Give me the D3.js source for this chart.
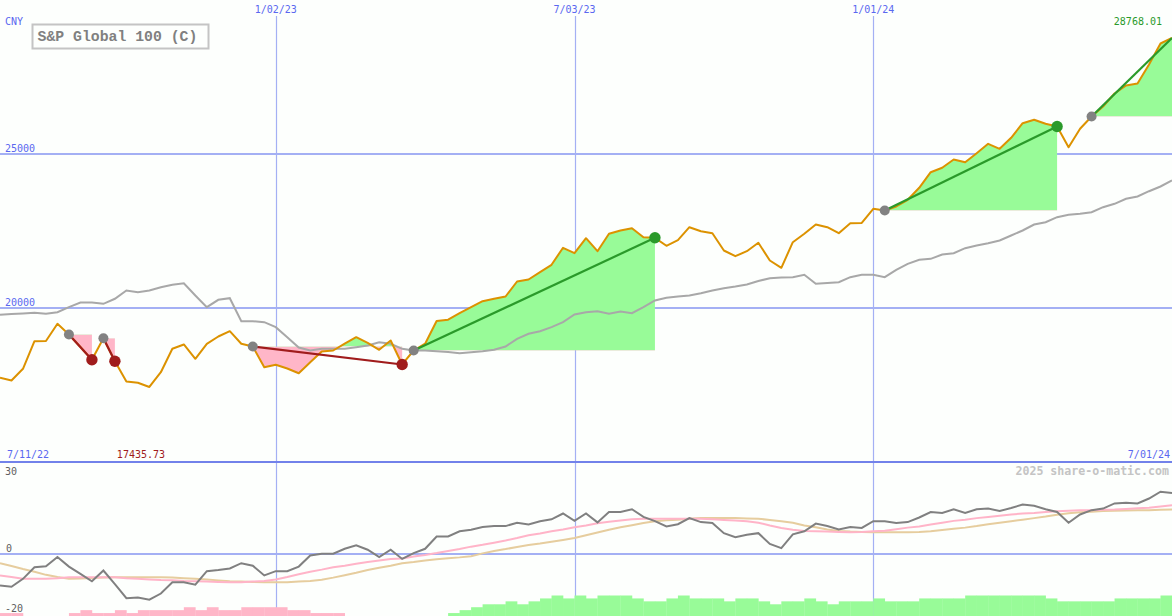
<!DOCTYPE html>
<html><head><meta charset="utf-8">
<script src="https://cdn.jsdelivr.net/npm/d3@7"></script>
<style>html,body{margin:0;padding:0;background:#fdfffd;overflow:hidden}svg{display:block}</style>
</head><body><svg id="c" width="1172" height="616"></svg>
<script>
// ---------- DATA ----------
const startDate = "2022-07-18", endDate = "2024-07-01";   // weekly (Mondays)
const title = "S&P Global 100 (C)";
const currency = "CNY";
const firstLabel = "7/11/22", lastLabel = "7/01/24";
const price = [17734,17646,18026,18922,18930,19487,19140,18734,18318,19019,
  18273,17614,17571,17435.73,17916,18675,18815,18351,18838,19075,
  19247,18840,18750,18078,18156,18036,17883,18240,18588,18620,
  18840,19052,18870,18643,18945,18166,18620,18840,19578,19620,
  19831,20026,20221,20299,20373,20860,20925,21162,21403,21955,
  21779,22266,21844,22409,22516,22591,22299,22279,22020,22201,
  22623,22494,22429,21867,21682,21844,22117,21542,21305,22136,
  22409,22711,22623,22429,22753,22760,23221,23166,23296,23513,
  23903,24409,24552,24822,24734,25026,25331,25169,25526,26000,
  26111,25981,25893,25221,25818,26218,26542,26964,27224,27289,
  27906,28588,28768.01];
const movingAvg = [19779,19805,19821,19844,19812,19864,20026,20179,20179,20136,
  20299,20568,20513,20568,20675,20753,20805,20406,20026,20266,
  20318,19571,19571,19539,19377,19052,18718,18620,18675,18675,
  18675,18727,18782,18890,18838,18675,18620,18620,18597,18571,
  18532,18565,18597,18643,18750,19000,19162,19247,19377,19539,
  19789,19864,19896,19812,19886,19831,20026,20244,20331,20373,
  20406,20481,20568,20643,20698,20763,20877,20968,20990,21000,
  21078,20786,20812,20838,21000,21078,21078,21000,21240,21435,
  21565,21597,21737,21779,21942,22029,22104,22192,22354,22516,
  22711,22786,22948,23026,23058,23110,23273,23383,23546,23620,
  23792,23945,24140];
const momentum = [-10.3,-10.7,-8.1,-4.3,-4.0,-1.0,-4.1,-6.5,-8.9,-5.4,
  -9.8,-14.4,-14.2,-14.9,-12.9,-9.2,-9.2,-10.0,-5.6,-5.2,
  -4.7,-3.0,-3.8,-7.0,-5.6,-5.6,-4.1,-0.5,0.1,0.1,
  1.7,2.8,1.4,-1.0,1.4,-1.6,0.3,1.7,5.7,5.7,
  7.4,7.9,8.8,9.1,9.1,10.2,9.6,10.7,11.3,13.2,
  10.8,13.2,10.3,13.7,13.7,14.6,12.1,10.7,9.0,9.7,
  11.7,10.4,10.1,6.8,5.5,6.3,6.8,3.3,1.9,6.4,
  7.4,9.9,9.1,8.0,8.8,8.5,10.7,10.7,10.1,10.4,
  11.9,13.7,13.4,14.6,13.4,14.6,14.8,14.0,15.0,16.1,
  15.7,14.6,13.7,10.2,12.9,14.3,14.8,16.5,16.7,16.5,
  18.1,20.3,19.9];
const fastAvg = [-7.0,-7.5,-8.1,-8.1,-8.1,-7.9,-7.6,-7.6,-7.6,-7.6,
  -7.6,-7.9,-8.1,-8.3,-8.5,-8.6,-8.8,-8.9,-9.0,-9.1,
  -9.2,-9.2,-9.0,-8.8,-8.3,-7.5,-6.6,-5.8,-5.1,-4.3,
  -3.8,-3.2,-2.6,-2.1,-1.6,-1.5,-0.8,-0.3,0.3,1.0,
  1.6,2.4,3.0,3.7,4.4,5.2,6.1,6.7,7.4,8.0,
  8.7,9.3,10.0,10.5,10.9,11.3,11.5,11.5,11.5,11.5,
  11.5,11.5,11.3,11.1,10.9,10.7,10.2,9.3,8.5,7.9,
  7.5,7.4,7.3,7.2,7.1,7.2,7.4,7.6,8.1,8.6,
  9.0,9.6,10.2,10.8,11.2,11.7,12.1,12.5,12.9,13.2,
  13.4,13.7,13.9,14.1,14.3,14.3,14.4,14.5,14.7,14.9,
  15.1,15.5,15.9];
const slowAvg = [-3.0,-3.9,-4.9,-5.8,-6.8,-7.5,-8.1,-8.0,-7.8,-7.7,
  -7.6,-7.6,-7.6,-7.6,-7.6,-7.7,-7.9,-8.1,-8.3,-8.6,
  -8.9,-9.0,-9.1,-9.2,-9.2,-9.2,-9.0,-8.8,-8.4,-7.7,
  -6.9,-6.1,-5.2,-4.5,-3.8,-3.0,-2.6,-2.1,-1.7,-1.4,
  -1.1,-0.7,0.2,1.0,1.6,2.3,2.9,3.4,4.0,4.6,
  5.2,6.1,7.0,7.9,8.7,9.4,10.1,10.7,11.0,11.2,
  11.5,11.7,11.7,11.7,11.7,11.6,11.5,11.1,10.7,10.2,
  9.3,8.7,8.0,7.5,7.3,7.2,7.1,7.1,7.1,7.1,
  7.2,7.4,7.8,8.2,8.6,9.1,9.7,10.2,10.7,11.2,
  11.7,12.2,12.8,13.3,13.6,13.8,14.0,14.1,14.2,14.3,
  14.3,14.4,14.5];
const signal = [-1,-1,0,0,0,0,-1,-2,-1,-1,
  -2,-1,-2,-2,-2,-2,-3,-2,-3,-2,
  -2,-3,-3,-3,-3,-2,-2,-1,-1,-1,
  0,0,0,0,0,0,0,0,0,1,
  2,3,4,4,5,4,5,6,7,6,
  7,6,7,7,7,6,5,5,6,7,
  6,6,6,5,6,6,5,4,5,5,
  6,5,4,5,5,5,6,5,5,5,
  6,6,6,6,7,7,7,7,7,7,
  7,6,5,5,5,5,5,6,6,6,
  6,7,7];
const trades = [
  {entry:"2022-08-29", exit:"2022-09-12"},
  {entry:"2022-09-19", exit:"2022-09-26"},
  {entry:"2022-12-19", exit:"2023-03-20"},
  {entry:"2023-03-27", exit:"2023-08-21"},
  {entry:"2024-01-08", exit:"2024-04-22"},
  {entry:"2024-05-13", exit:null}
];
const priceTicks = [20000, 25000];
const dateTicks = ["2023-01-02","2023-07-03","2024-01-01"];
const dateTickLabels = ["1/02/23","7/03/23","1/01/24"];
const oscTicks = [30, 0, -20];

// ---------- CHART ----------
const W = 1172, H = 616, SEP = 462;
const parse = d3.timeParse("%Y-%m-%d");
const dates = d3.timeMonday.range(parse(startDate), d3.timeDay.offset(parse(endDate), 1));
const idx = s => dates.findIndex(d => +d === +parse(s));
const x = d3.scaleTime().domain([dates[0], dates[dates.length - 1]]).range([0, W]);
const y = d3.scaleLinear().domain([20000, 25000]).range([308, 154]);
const y2 = d3.scaleLinear().domain([0, 30]).range([554, 462]);
const hb = d3.scaleLinear().domain([0, 7]).range([0, 20.5]);

const C = {bg:"#fdfffd", grid:"#a4b0f4", sep:"#7282ea", lbl:"#5a68f0", green:"#98fb98", pink:"#ffb6c8",
  orange:"#dc9200", ma:"#a8a8a8", win:"#2a9a2a", loss:"#a01c1c", dot:"#828282"};
const mono = "'DejaVu Sans Mono', monospace";

const svg = d3.select("#c");
const defs = svg.append("defs");
svg.append("rect").attr("width", W).attr("height", H).attr("fill", C.bg);

// grid
const gGrid = svg.append("g");
dateTicks.forEach(s => {
  const px = Math.round(x(parse(s))) + 0.5;
  gGrid.append("line").attr("x1", px).attr("x2", px).attr("y1", 16).attr("y2", H)
    .attr("stroke", C.grid).attr("stroke-width", 1.2);
});
priceTicks.forEach(v => {
  gGrid.append("line").attr("x1", 0).attr("x2", W).attr("y1", y(v)).attr("y2", y(v))
    .attr("stroke", C.grid).attr("stroke-width", 2);
});
gGrid.append("line").attr("x1", 0).attr("x2", W).attr("y1", y2(0)).attr("y2", y2(0))
  .attr("stroke", C.grid).attr("stroke-width", 2);

// trade fills
const gFill = svg.append("g");
trades.forEach((t, n) => {
  const i0 = idx(t.entry), i1 = t.exit ? idx(t.exit) : dates.length - 1;
  const pts = d3.range(i0, i1 + 1);
  const ey = y(price[i0]);
  const area = d3.area().x(i => x(dates[i])).y0(ey).y1(i => y(price[i]));
  defs.append("clipPath").attr("id", "up" + n).append("rect").attr("x", 0).attr("y", 0).attr("width", W).attr("height", ey);
  defs.append("clipPath").attr("id", "dn" + n).append("rect").attr("x", 0).attr("y", ey).attr("width", W).attr("height", SEP - ey);
  gFill.append("path").attr("d", area(pts)).attr("fill", C.green).attr("clip-path", `url(#up${n})`);
  gFill.append("path").attr("d", area(pts)).attr("fill", C.pink).attr("clip-path", `url(#dn${n})`);
});

// lines
const line = arr => d3.line().x((d, i) => x(dates[i])).y(d => y(d))(arr);
svg.append("path").attr("d", line(movingAvg)).attr("fill", "none").attr("stroke", C.ma).attr("stroke-width", 2);
svg.append("path").attr("d", line(price)).attr("fill", "none").attr("stroke", C.orange).attr("stroke-width", 2).attr("stroke-linejoin", "round");

// trade lines + dots
const gTr = svg.append("g");
trades.forEach(t => {
  const i0 = idx(t.entry), i1 = t.exit ? idx(t.exit) : dates.length - 1;
  const col = price[i1] > price[i0] ? C.win : C.loss;
  gTr.append("line").attr("x1", x(dates[i0])).attr("y1", y(price[i0])).attr("x2", x(dates[i1])).attr("y2", y(price[i1]))
    .attr("stroke", col).attr("stroke-width", 2.2);
});
trades.forEach(t => {
  const i0 = idx(t.entry);
  gTr.append("circle").attr("cx", x(dates[i0])).attr("cy", y(price[i0])).attr("r", 5).attr("fill", C.dot);
  if (t.exit) {
    const i1 = idx(t.exit);
    const col = price[i1] > price[i0] ? C.win : C.loss;
    gTr.append("circle").attr("cx", x(dates[i1])).attr("cy", y(price[i1])).attr("r", 5.7).attr("fill", col);
  }
});

// lower panel bars
const gBar = svg.append("g");
signal.forEach((v, i) => {
  if (!v || i >= dates.length - 1) return;
  const x0 = x(dates[i]), x1 = x(dates[i + 1]);
  const h = hb(Math.abs(v));
  gBar.append("rect").attr("x", x0).attr("width", x1 - x0 + 0.3).attr("y", H - h).attr("height", h)
    .attr("fill", v > 0 ? C.green : C.pink);
});
const line2 = arr => d3.line().x((d, i) => x(dates[i])).y(d => y2(d))(arr);
svg.append("path").attr("d", line2(slowAvg)).attr("fill", "none").attr("stroke", "#e6cd9e").attr("stroke-width", 2);
svg.append("path").attr("d", line2(fastAvg)).attr("fill", "none").attr("stroke", "#ffb4c8").attr("stroke-width", 2);
svg.append("path").attr("d", line2(momentum)).attr("fill", "none").attr("stroke", "#808080").attr("stroke-width", 2);

// separator
svg.append("line").attr("x1", 0).attr("x2", W).attr("y1", SEP).attr("y2", SEP).attr("stroke", C.sep).attr("stroke-width", 2);

// texts
const txt = (t, px, py, col, anchor, size) => svg.append("text").text(t).attr("x", px).attr("y", py)
  .attr("fill", col).attr("font-family", mono).attr("font-size", size || 10).attr("text-anchor", anchor || "start");
dateTicks.forEach((s, i) => txt(dateTickLabels[i], x(parse(s)), 13, C.lbl, "middle"));
txt(currency, 5, 25, C.lbl);
priceTicks.forEach(v => txt(d3.format("d")(v), 5, y(v) - 2.5, C.lbl));
txt(d3.format(".2f")(price[price.length - 1]), 1162, 24.5, C.win, "end");
txt(firstLabel, 7, 458, C.lbl);
txt(lastLabel, 1170, 458, C.lbl, "end");
const minI = d3.minIndex(price);
txt(d3.format(".2f")(price[minI]), x(dates[minI]) - 32.5, 458, C.loss);
txt("2025 share-o-matic.com", 1169, 475, "#c4c4c4", "end", 11.6).attr("font-weight", "bold");
txt(oscTicks[0], 5, 475, "#606060");
txt(oscTicks[1], 6, y2(oscTicks[1]) - 2.5, "#606060");
txt(oscTicks[2], 5, 611.5, "#606060");

// title box
svg.append("rect").attr("x", 32.5).attr("y", 24.5).attr("width", 176).attr("height", 24)
  .attr("fill", C.bg).attr("stroke", "#c4c4c4").attr("stroke-width", 2);
svg.append("text").text(title).attr("x", 37.5).attr("y", 41).attr("fill", "#808080")
  .attr("font-family", "'Liberation Mono', monospace").attr("font-size", 14.8).attr("font-weight", "bold");
</script></body></html>
